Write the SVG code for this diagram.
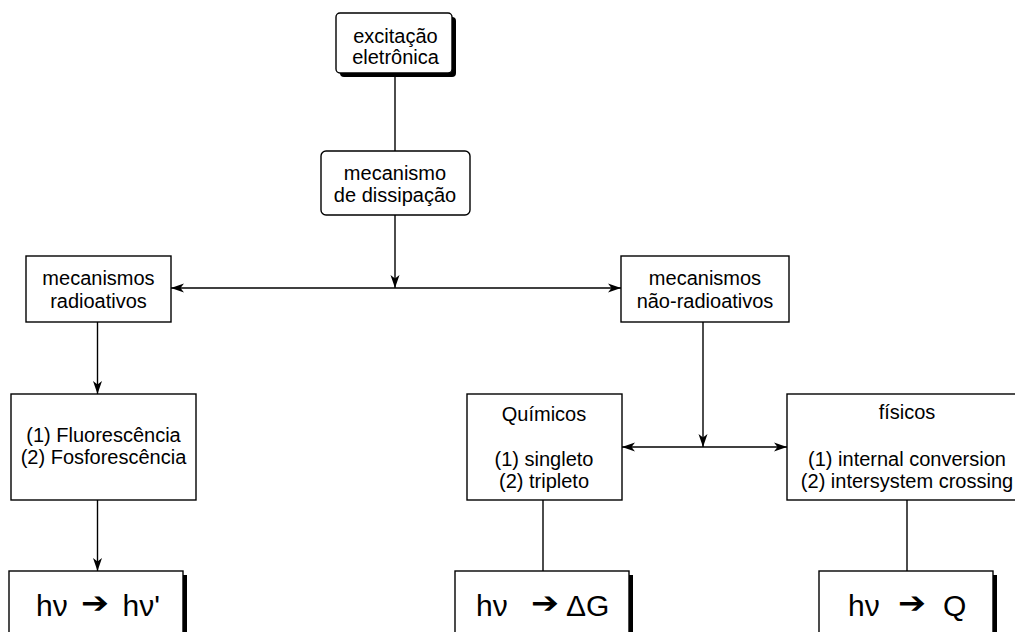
<svg xmlns="http://www.w3.org/2000/svg" width="1015" height="632" viewBox="0 0 1015 632">
  <style>
    .box { fill: #fff; stroke: #000; stroke-width: 1.4; }
    .shadow { fill: #000; stroke: none; }
    .lbl { font-family: "Liberation Sans", Arial, sans-serif; font-size: 20px; text-anchor: middle; fill: #000; }
    .big { font-family: "Liberation Sans", Arial, sans-serif; font-size: 30px; fill: #000; }
    .ar { font-family: "DejaVu Sans", sans-serif; font-size: 30px; }
    .conn { fill: none; stroke: #000; stroke-width: 1.4; }
  </style>
  <defs>
    <marker id="ah" markerUnits="userSpaceOnUse" markerWidth="14" markerHeight="10" viewBox="0 0 14 10" refX="13" refY="5" orient="auto-start-reverse">
      <path d="M0,0.5 L13,5 L0,9.5 L3.5,5 z" fill="#000"/>
    </marker>
  </defs>
  <rect width="1015" height="632" fill="#fff"/>

  <g id="connectors">
    <line class="conn" x1="395" y1="73" x2="395" y2="151"/>
    <line class="conn" x1="395" y1="215" x2="395" y2="288" marker-end="url(#ah)"/>
    <line class="conn" x1="171" y1="288" x2="621" y2="288" marker-start="url(#ah)" marker-end="url(#ah)"/>
    <line class="conn" x1="97.5" y1="322" x2="97.5" y2="394" marker-end="url(#ah)"/>
    <line class="conn" x1="97.5" y1="500" x2="97.5" y2="571" marker-end="url(#ah)"/>
    <line class="conn" x1="703" y1="322" x2="703" y2="447" marker-end="url(#ah)"/>
    <line class="conn" x1="622" y1="447" x2="787" y2="447" marker-start="url(#ah)" marker-end="url(#ah)"/>
    <line class="conn" x1="543" y1="500" x2="543" y2="571"/>
    <line class="conn" x1="907" y1="500" x2="907" y2="571"/>
  </g>

  <g id="excitacao">
    <rect class="shadow" x="340" y="17" width="116" height="60" rx="4"/>
    <rect class="box" x="336" y="13" width="116" height="60" rx="4"/>
    <text class="lbl" x="395.5" y="43">excitação</text>
    <text class="lbl" x="395.5" y="64">eletrônica</text>
  </g>

  <g id="dissipacao">
    <rect class="box" x="321" y="151" width="149" height="64" rx="5"/>
    <text class="lbl" x="395" y="180">mecanismo</text>
    <text class="lbl" x="395" y="202">de dissipação</text>
  </g>

  <g id="radioativos">
    <rect class="box" x="26" y="256" width="145" height="66"/>
    <text class="lbl" x="98.5" y="285">mecanismos</text>
    <text class="lbl" x="98.5" y="308">radioativos</text>
  </g>

  <g id="nao-radioativos">
    <rect class="box" x="621" y="256" width="168" height="66"/>
    <text class="lbl" x="705" y="285">mecanismos</text>
    <text class="lbl" x="705" y="308">não-radioativos</text>
  </g>

  <g id="fluorescencia">
    <rect class="box" x="11" y="394" width="185" height="106"/>
    <text class="lbl" x="103.5" y="441.5">(1) Fluorescência</text>
    <text class="lbl" x="103.5" y="464">(2) Fosforescência</text>
  </g>

  <g id="quimicos">
    <rect class="box" x="467" y="394" width="155" height="106"/>
    <text class="lbl" x="544" y="420.5">Químicos</text>
    <text class="lbl" x="544" y="466">(1) singleto</text>
    <text class="lbl" x="544" y="487.5">(2) tripleto</text>
  </g>

  <g id="fisicos">
    <rect class="box" x="787" y="394" width="240" height="106"/>
    <text class="lbl" x="907" y="419">físicos</text>
    <text class="lbl" x="907" y="466">(1) internal conversion</text>
    <text class="lbl" x="907" y="488">(2) intersystem crossing</text>
  </g>

  <g id="hv-hv">
    <rect class="shadow" x="13" y="575" width="174" height="80"/>
    <rect class="box" x="9" y="571" width="174" height="80"/>
    <text class="big"><tspan x="36" y="616">hν</tspan><tspan class="ar" x="81" y="613" textLength="28" lengthAdjust="spacingAndGlyphs">➔</tspan><tspan x="122.5" y="616">hν'</tspan></text>
  </g>

  <g id="hv-dg">
    <rect class="shadow" x="459" y="575" width="174" height="80"/>
    <rect class="box" x="455" y="571" width="174" height="80"/>
    <text class="big"><tspan x="476" y="616">hν</tspan><tspan class="ar" x="531" y="613" textLength="28" lengthAdjust="spacingAndGlyphs">➔</tspan><tspan x="566" y="616">ΔG</tspan></text>
  </g>

  <g id="hv-q">
    <rect class="shadow" x="823" y="575" width="174" height="80"/>
    <rect class="box" x="819" y="571" width="174" height="80"/>
    <text class="big"><tspan x="848" y="616">hν</tspan><tspan class="ar" x="898" y="613" textLength="28" lengthAdjust="spacingAndGlyphs">➔</tspan><tspan x="943" y="616">Q</tspan></text>
  </g>
</svg>
